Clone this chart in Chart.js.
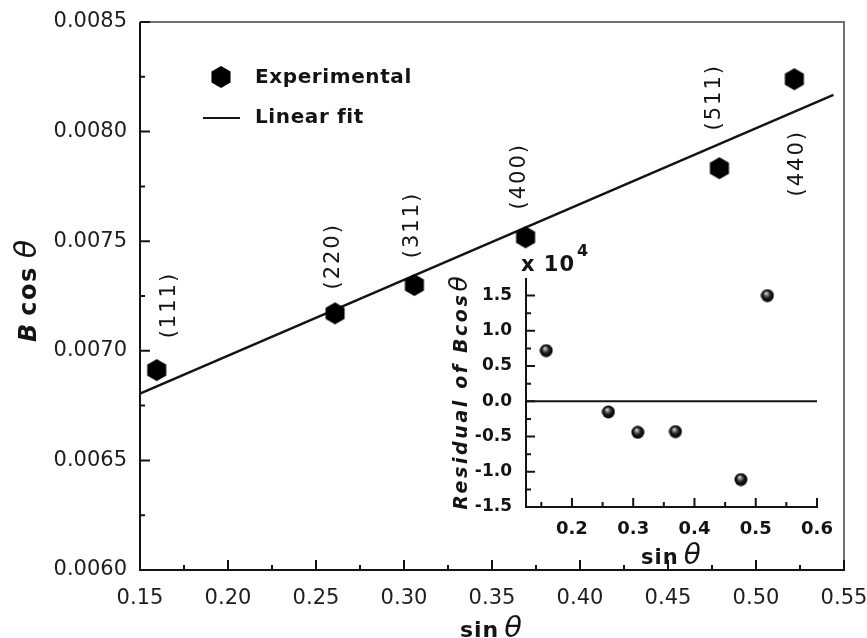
<!DOCTYPE html>
<html>
<head>
<meta charset="utf-8">
<script src="https://cdn.jsdelivr.net/npm/chart.js@4.4.1/dist/chart.umd.min.js"></script>
<style>
  html, body { margin: 0; padding: 0; background: #fff; }
  #wrap { position: relative; width: 867px; height: 638px; overflow: hidden; }
  #mainChart { position: absolute; left: 0; top: 0; }
  #insetChart { position: absolute; left: 430px; top: 240px; }
</style>
</head>
<body>
<div id="wrap">
  <canvas id="mainChart" width="867" height="638"></canvas>
  <canvas id="insetChart" width="420" height="330"></canvas>
</div>
<script>
// main plot: B cos(theta) vs sin(theta)
const sinTheta = [0.1595, 0.2608, 0.3059, 0.3691, 0.4792, 0.5218];
const bCosTheta = [0.006912, 0.007171, 0.007300, 0.007518, 0.007833, 0.008239];
const hkl = ['(111)', '(220)', '(311)', '(400)', '(511)', '(440)'];
const fitX = [0.15, 0.544];
const fitY = [0.006805, 0.008168];

// inset: residuals (x 10^4)
const residX = [0.158, 0.2595, 0.3075, 0.369, 0.4758, 0.519];
const residY = [0.72, -0.15, -0.44, -0.43, -1.11, 1.50];
const zeroX = [0.125, 0.6];
const zeroY = [0, 0];

// tick values / labels
const mainXMajor = [0.15, 0.20, 0.25, 0.30, 0.35, 0.40, 0.45, 0.50, 0.55];
const mainXLabels = ['0.15', '0.20', '0.25', '0.30', '0.35', '0.40', '0.45', '0.50', '0.55'];
const mainXMinor = [0.175, 0.225, 0.275, 0.325, 0.375, 0.425, 0.475, 0.525];
const mainYMajor = [0.0060, 0.0065, 0.0070, 0.0075, 0.0080, 0.0085];
const mainYLabels = ['0.0060', '0.0065', '0.0070', '0.0075', '0.0080', '0.0085'];
const mainYMinor = [0.00625, 0.00675, 0.00725, 0.00775, 0.00825];
const insetXMajor = [0.2, 0.3, 0.4, 0.5, 0.6];
const insetXLabels = ['0.2', '0.3', '0.4', '0.5', '0.6'];
const insetXMinor = [0.15, 0.25, 0.35, 0.45, 0.55];
const insetYMajor = [-1.5, -1.0, -0.5, 0, 0.5, 1.0, 1.5];
const insetYLabels = ['-1.5', '-1.0', '-0.5', '0.0', '0.5', '1.0', '1.5'];
const insetYMinor = [-1.25, -0.75, -0.25, 0.25, 0.75, 1.25];

const INK = '#141414';
Chart.defaults.font.family = "'DejaVu Sans', sans-serif";
Chart.defaults.color = INK;

function hexagonImg(r) {
  const c = document.createElement('canvas');
  const s = Math.ceil(2 * r + 2);
  c.width = s; c.height = s;
  const g = c.getContext('2d');
  g.fillStyle = '#000';
  g.beginPath();
  for (let i = 0; i < 6; i++) {
    const a = (-90 + 60 * i) * Math.PI / 180;
    const px = s / 2 + r * Math.cos(a), py = s / 2 + r * Math.sin(a);
    i ? g.lineTo(px, py) : g.moveTo(px, py);
  }
  g.closePath();
  g.fill();
  return c;
}

function sphereImg(d) {
  const c = document.createElement('canvas');
  c.width = d; c.height = d;
  const g = c.getContext('2d');
  const grad = g.createRadialGradient(d * 0.4, d * 0.32, 0, d / 2, d / 2, d / 2);
  grad.addColorStop(0, '#f2f2f2');
  grad.addColorStop(0.22, '#8a8a8a');
  grad.addColorStop(0.55, '#1a1a1a');
  grad.addColorStop(1, '#000');
  g.fillStyle = grad;
  g.beginPath();
  g.arc(d / 2, d / 2, d / 2 - 0.5, 0, Math.PI * 2);
  g.fill();
  return c;
}

const hexPoint = hexagonImg(11);
const ballPoint = sphereImg(14);

// draws a line of mixed-font text, centred on (x, y) along its own direction
function drawRich(ctx, parts, x, y, angle) {
  ctx.save();
  ctx.translate(x, y);
  ctx.rotate(angle);
  ctx.textAlign = 'left';
  ctx.textBaseline = 'alphabetic';
  ctx.fillStyle = INK;
  let total = 0;
  parts.forEach(p => {
    ctx.font = p.font;
    ctx.letterSpacing = p.ls || '0px';
    p.w = ctx.measureText(p.text).width;
    total += p.w + (p.gap || 0);
  });
  let cx = -total / 2;
  parts.forEach(p => {
    ctx.font = p.font;
    ctx.letterSpacing = p.ls || '0px';
    ctx.fillText(p.text, cx, p.dy || 0);
    cx += p.w + (p.gap || 0);
  });
  ctx.restore();
}

function axesPlugin(id, xMinor, yMinor, boxed, majLen, minLen) {
  return {
    id,
    beforeDatasetsDraw(chart) {
      const {ctx, chartArea: {left, top, right, bottom}, scales: {x, y}} = chart;
      ctx.save();
      ctx.lineWidth = 2;
      if (boxed) {
        ctx.strokeStyle = '#707070';
        ctx.beginPath();
        ctx.moveTo(left, top); ctx.lineTo(right, top); ctx.lineTo(right, bottom);
        ctx.stroke();
      }
      ctx.strokeStyle = INK;
      ctx.beginPath();
      ctx.moveTo(left, top); ctx.lineTo(left, bottom); ctx.lineTo(right + 1, bottom);
      ctx.stroke();
      ctx.beginPath();
      x.ticks.forEach(t => { const px = x.getPixelForValue(t.value); ctx.moveTo(px, bottom); ctx.lineTo(px, bottom - majLen); });
      xMinor.forEach(v => { const px = x.getPixelForValue(v); ctx.moveTo(px, bottom); ctx.lineTo(px, bottom - minLen); });
      y.ticks.forEach(t => { const py = y.getPixelForValue(t.value); ctx.moveTo(left, py); ctx.lineTo(left + majLen, py); });
      yMinor.forEach(v => { const py = y.getPixelForValue(v); ctx.moveTo(left, py); ctx.lineTo(left + minLen, py); });
      ctx.stroke();
      ctx.restore();
    }
  };
}

const mainDecor = {
  id: 'mainDecor',
  afterDatasetsDraw(chart) {
    const ctx = chart.ctx;
    const meta = chart.getDatasetMeta(0);
    // (hkl) labels next to each point
    const shift = [[13, -65], [-1, -57], [-2, -60], [-6, -61], [-5, -71], [3, 84]];
    ctx.save();
    ctx.fillStyle = INK;
    ctx.font = "21px 'DejaVu Sans'";
    ctx.letterSpacing = '2px';
    ctx.textAlign = 'center';
    ctx.textBaseline = 'middle';
    meta.data.forEach((pt, i) => {
      ctx.save();
      ctx.translate(pt.x + shift[i][0], pt.y + shift[i][1]);
      ctx.rotate(-Math.PI / 2);
      ctx.fillText(hkl[i], 0, 0);
      ctx.restore();
    });
    ctx.restore();

    // legend
    const ds = chart.data.datasets;
    ctx.save();
    ctx.drawImage(hexPoint, 221 - hexPoint.width / 2, 77 - hexPoint.height / 2);
    ctx.strokeStyle = INK;
    ctx.lineWidth = 2;
    ctx.beginPath(); ctx.moveTo(203, 118); ctx.lineTo(240, 118); ctx.stroke();
    ctx.fillStyle = INK;
    ctx.font = "bold 20px 'DejaVu Sans'";
    ctx.letterSpacing = '0.6px';
    ctx.textAlign = 'left';
    ctx.textBaseline = 'middle';
    ctx.fillText(ds[0].label, 255, 78);
    ctx.fillText(ds[1].label, 255, 118);
    ctx.restore();

    // axis titles
    drawRich(ctx, [
      {text: 'B', font: "italic bold 24px 'DejaVu Sans'", gap: 8},
      {text: 'cos', font: "bold 24px 'DejaVu Sans'", ls: '1.5px', gap: 8},
      {text: 'θ', font: "italic 30px 'DejaVu Sans'"}
    ], 36, 291, -Math.PI / 2);
    drawRich(ctx, [
      {text: 'sin', font: "bold 22px 'DejaVu Sans'", ls: '1px', gap: 5},
      {text: 'θ', font: "italic 29px 'DejaVu Sans'"}
    ], 491, 637, 0);
  }
};

const insetDecor = {
  id: 'insetDecor',
  afterDatasetsDraw(chart) {
    const ctx = chart.ctx;
    drawRich(ctx, [
      {text: 'Residual of Bcos', font: "italic bold 19px 'DejaVu Sans'", ls: '2.6px', gap: 1},
      {text: 'θ', font: "italic 25px 'DejaVu Sans'"}
    ], 37, 153, -Math.PI / 2);
    drawRich(ctx, [
      {text: 'sin', font: "bold 21px 'DejaVu Sans'", ls: '1px', gap: 5},
      {text: 'θ', font: "italic 28px 'DejaVu Sans'"}
    ], 241, 324, 0);
    ctx.save();
    ctx.fillStyle = INK;
    ctx.textAlign = 'left';
    ctx.textBaseline = 'alphabetic';
    ctx.font = "bold 21px 'DejaVu Sans'";
    ctx.letterSpacing = '1px';
    ctx.fillText('x 10', 91, 31);
    const w = ctx.measureText('x 10').width;
    ctx.font = "bold 16px 'DejaVu Sans'";
    ctx.fillText('4', 91 + w + 2, 16);
    ctx.restore();
  }
};

function fixedTicks(values) {
  return scale => { scale.ticks = values.map(v => ({value: v})); };
}

// fixed scale sizes, and no extra room for overhanging end labels
function sizeX(h) {
  return s => { s.height = h; s.paddingLeft = 0; s.paddingRight = 0; };
}
function sizeY(w) {
  return s => { s.width = w; s.paddingTop = 0; s.paddingBottom = 0; };
}

new Chart(document.getElementById('mainChart'), {
  type: 'scatter',
  data: {
    datasets: [
      {
        label: 'Experimental',
        data: sinTheta.map((v, i) => ({x: v, y: bCosTheta[i]})),
        pointStyle: hexPoint,
        pointRadius: 11,
        order: 1,
        clip: false
      },
      {
        label: 'Linear fit',
        data: fitX.map((v, i) => ({x: v, y: fitY[i]})),
        showLine: true,
        borderColor: INK,
        borderWidth: 2.4,
        pointRadius: 0,
        order: 2
      }
    ]
  },
  options: {
    responsive: false,
    animation: false,
    events: [],
    layout: { padding: { top: 22, right: 23, left: 0, bottom: 0 } },
    plugins: { legend: { display: false }, tooltip: { enabled: false } },
    scales: {
      x: {
        type: 'linear', min: 0.15, max: 0.55,
        afterBuildTicks: fixedTicks(mainXMajor),
        afterFit: sizeX(68),
        grid: { display: false, drawTicks: false }, border: { display: false },
        ticks: { autoSkip: false, maxRotation: 0, padding: 16, font: { size: 21 }, color: '#1e1e1e',
                 callback: (v, i) => mainXLabels[i] }
      },
      y: {
        type: 'linear', min: 0.0060, max: 0.0085,
        afterBuildTicks: fixedTicks(mainYMajor),
        afterFit: sizeY(140),
        grid: { display: false, drawTicks: false }, border: { display: false },
        ticks: { autoSkip: false, padding: 13, font: { size: 21 }, color: '#1e1e1e',
                 callback: (v, i) => mainYLabels[i] }
      }
    }
  },
  plugins: [axesPlugin('mainAxes', mainXMinor, mainYMinor, true, 10, 5), mainDecor]
});

new Chart(document.getElementById('insetChart'), {
  type: 'scatter',
  data: {
    datasets: [
      {
        label: 'Residual',
        data: residX.map((v, i) => ({x: v, y: residY[i]})),
        pointStyle: ballPoint,
        pointRadius: 7,
        order: 1,
        clip: false
      },
      {
        label: 'Zero',
        data: zeroX.map((v, i) => ({x: v, y: zeroY[i]})),
        showLine: true,
        borderColor: INK,
        borderWidth: 2,
        pointRadius: 0,
        order: 2
      }
    ]
  },
  options: {
    responsive: false,
    animation: false,
    events: [],
    layout: { padding: { top: 38, right: 33, left: 0, bottom: 0 } },
    plugins: { legend: { display: false }, tooltip: { enabled: false } },
    scales: {
      x: {
        type: 'linear', min: 0.125, max: 0.6,
        afterBuildTicks: fixedTicks(insetXMajor),
        afterFit: sizeX(63),
        grid: { display: false, drawTicks: false }, border: { display: false },
        ticks: { autoSkip: false, maxRotation: 0, padding: 12, font: { size: 18, weight: 'bold' }, color: INK,
                 callback: (v, i) => insetXLabels[i] }
      },
      y: {
        type: 'linear', min: -1.5, max: 1.75,
        afterBuildTicks: fixedTicks(insetYMajor),
        afterFit: sizeY(96),
        grid: { display: false, drawTicks: false }, border: { display: false },
        ticks: { autoSkip: false, padding: 14, font: { size: 17, weight: 'bold' }, color: INK,
                 callback: (v, i) => insetYLabels[i] }
      }
    }
  },
  plugins: [axesPlugin('insetAxes', insetXMinor, insetYMinor, false, 9, 5), insetDecor]
});
</script>
</body>
</html>
